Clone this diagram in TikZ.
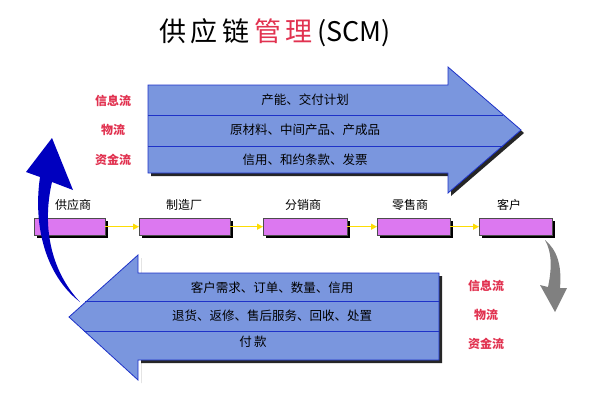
\documentclass[tikz,border=0pt]{standalone}
\usepackage{fontspec}
\setmainfont{Noto Sans CJK SC}
\usetikzlibrary{arrows.meta}
\definecolor{abl}{RGB}{122,150,222}
\definecolor{lnb}{RGB}{30,50,200}
\definecolor{rd}{RGB}{225,50,80}
\definecolor{pk}{RGB}{220,120,240}
\tikzset{lab/.style={text=rd,font=\fontsize{12}{12}\selectfont\bfseries},
row/.style={font=\fontsize{12.5}{12}\selectfont},
ent/.style={draw=black!70,fill=pk,minimum width=#1,minimum height=17pt,inner sep=0pt},
nm/.style={font=\fontsize{12}{12}\selectfont}}
\begin{document}
\begin{tikzpicture}[x=1pt,y=-1pt]
\useasboundingbox (0,0) rectangle (600,400);
\node[font=\fontsize{27}{27}\selectfont] (title) at (275,33) {供\,应\,链\,\textcolor{rd}{管\,理}\,(SCM)};
% top arrow
\fill[black!85] (151,88)--(451,88)--(451,70)--(524,133)--(451,196)--(451,176)--(151,176)--cycle;
\fill[abl,draw=lnb,thick] (148,85)--(448,85)--(448,67)--(521,130)--(448,193)--(448,173)--(148,173)--cycle;
\draw[lnb,thick] (148,115)--(503,115);
\draw[lnb,thick] (148,146)--(503,146);
\node[row] (t1) at (305,100) {产能、交付计划};
\node[row] (t2) at (305,130) {原材料、中间产品、产成品};
\node[row] (t3) at (305,160) {信用、和约条款、发票};
\node[lab] (l1) at (113,101) {信息流};
\node[lab] (l2) at (113,130) {物流};
\node[lab] (l3) at (113,160) {资金流};
% entities
\foreach \n/\a/\b/\t/\tx in {a/34/105/供应商/73,b/139/230/制造厂/184,c/263/347/分销商/303,d/377/450/零售商/410,e/479/552/客户/509}{
 \fill[black] (\a+3,221) rectangle (\b+3,238);
 \node[ent=\b pt-\a pt,anchor=north west] (\n) at (\a,218) {};
 \node[nm] (\n t) at (\tx,205) {\t};
}
\foreach \p/\q in {a/b,b/c,c/d,d/e}{
 \draw[yellow!80!orange,very thick,-{Triangle[length=6pt,width=6pt]}] (\p.east)--(\q.west);
}
% bottom arrow
\fill[black!85] (141,258)--(141,276)--(442,276)--(442,363)--(141,363)--(141,383)--cycle;
\fill[abl,draw=lnb,thick] (138,255)--(138,273)--(439,273)--(439,360)--(138,360)--(138,380)--(69,317)--cycle;
\draw[lnb,thick] (85,301)--(439,301);
\draw[lnb,thick] (84,331)--(439,331);
\node[row] (b1) at (272,288) {客户需求、订单、数量、信用};
\node[row] (b2) at (272,316) {退货、返修、售后服务、回收、处置};
\node[row] (b3) at (253,342) {付\,款};
\node[lab] (r1) at (486,286) {信息流};
\node[lab] (r2) at (486,315) {物流};
\node[lab] (r3) at (486,344) {资金流};
% blue curved arrow
\fill[blue!75!black] (80,302) .. controls (50,270) and (42,225) .. (52,182) -- (73,190) -- (52,138) -- (26,172) -- (40,177) .. controls (33,225) and (45,275) .. (80,302) -- cycle;
% grey curved arrow
\fill[gray] (545,240) .. controls (557,250) and (562,265) .. (560,288) -- (567,288) -- (555,312) -- (540,285) -- (548,287) .. controls (552,268) and (552,252) .. (545,240) -- cycle;
\end{tikzpicture}
\end{document}
